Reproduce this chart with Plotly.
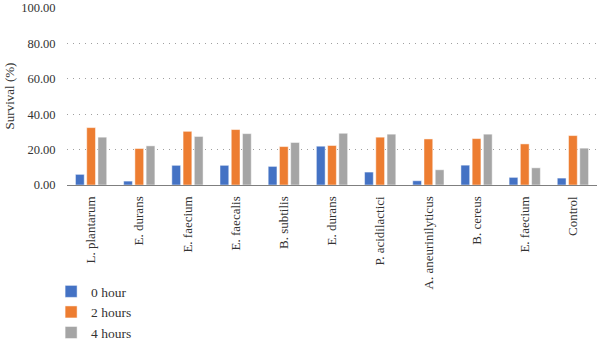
import plotly.graph_objects as go

# Bacterial strains on the x axis (two names occur twice, so positions are indexed)
strains = ["L. plantarum", "E. durans", "E. faecium", "E. faecalis", "B. subtilis",
           "E. durans", "P. acidilactici", "A. aneurinilyticus", "B. cereus",
           "E. faecium", "Control"]

# Survival (%) after each exposure time
hour0 = [6.0, 2.2, 11.1, 11.1, 10.5, 21.9, 7.3, 2.4, 11.2, 4.3, 3.9]
hours2 = [32.4, 20.6, 30.3, 31.3, 21.7, 22.3, 27.0, 26.0, 26.2, 23.2, 27.9]
hours4 = [27.0, 22.1, 27.4, 29.0, 24.0, 29.2, 28.7, 8.6, 28.7, 9.7, 20.8]

series_names = ["0 hour", "2 hours", "4 hours"]
series_colors = ["#4472C4", "#ED7D31", "#A5A5A5"]

y_ticks = [0, 20, 40, 60, 80, 100]

positions = list(range(len(strains)))

fig = go.Figure()
for name, vals, col in zip(series_names, [hour0, hours2, hours4], series_colors):
    fig.add_trace(go.Bar(
        x=positions, y=vals, name=name,
        marker=dict(color=col, line=dict(color="rgba(255,255,255,0.6)", width=0.8)),
    ))

serif = "Liberation Serif"

fig.update_layout(
    width=600, height=343,
    margin=dict(l=67, r=3, t=7, b=158, autoexpand=False),
    paper_bgcolor="white", plot_bgcolor="white",
    barmode="group", bargap=0.30, bargroupgap=0.22,
    font=dict(family=serif, size=13, color="#333333"),
    showlegend=True,
    legend=dict(
        x=-0.03, y=0.195, xref="paper", yref="container",
        xanchor="left", yanchor="top",
        font=dict(family=serif, size=13.5, color="#333333"),
        itemwidth=30, tracegroupgap=0, bgcolor="rgba(0,0,0,0)",
    ),
    xaxis=dict(
        tickmode="array", tickvals=positions, ticktext=strains,
        tickangle=-90, range=[-0.5, len(strains) - 0.5], automargin=False,
        showline=True, linecolor="#7f7f7f", linewidth=1.2,
        ticks="outside", ticklen=5, tickcolor="rgba(0,0,0,0)",
        showgrid=False, zeroline=False,
        tickfont=dict(family=serif, size=13, color="#333333"),
    ),
    yaxis=dict(
        range=[0, 100.5], tickvals=y_ticks, tickformat=".2f", automargin=False,
        showgrid=True, gridcolor="#a0a0a0", griddash="1px,5px", gridwidth=1.2,
        zeroline=False, showline=False,
        ticks="outside", ticklen=8, tickcolor="rgba(0,0,0,0)",
        tickfont=dict(family=serif, size=12.5, color="#333333"),
        title=dict(text="Survival (%)", standoff=3,
                   font=dict(family=serif, size=13, color="#333333")),
    ),
)

fig.write_html("out.html")
